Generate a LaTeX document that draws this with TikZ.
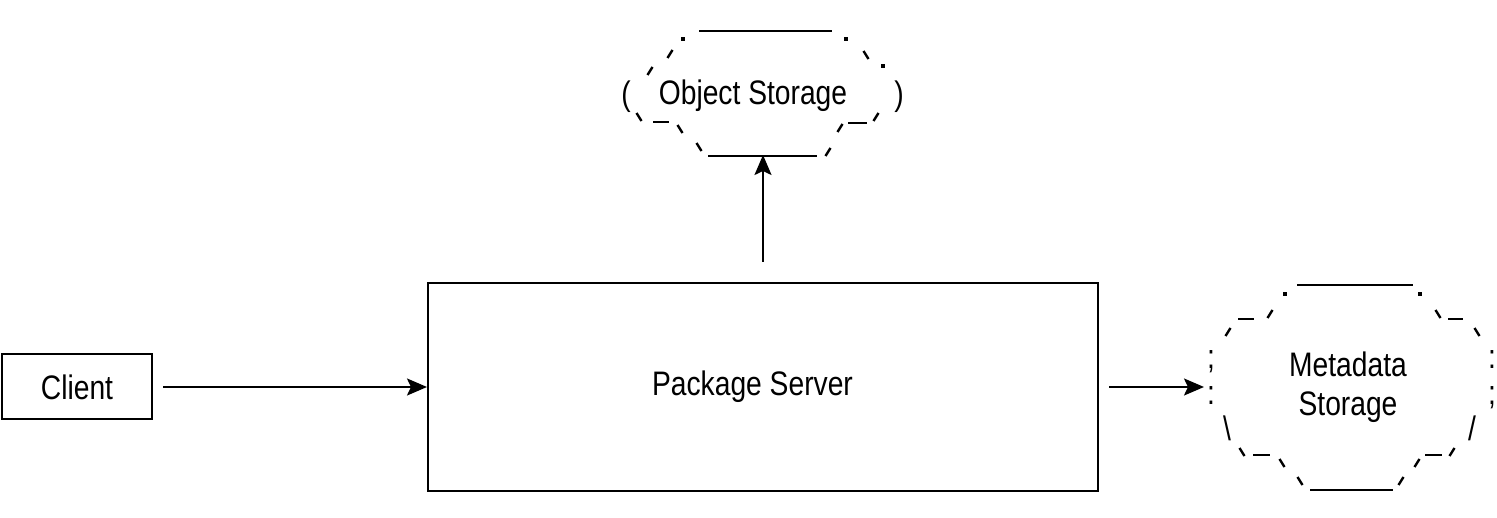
\documentclass[tikz,border=0pt]{standalone}
\usepackage{fontspec}
\setmainfont[FakeStretch=0.83]{Liberation Sans}
\usetikzlibrary{positioning,arrows.meta}

\begin{document}
\begin{tikzpicture}[
    x=1pt, y=-1pt,
    every node/.style={font=\fontsize{34}{39}\selectfont},
    box/.style={draw, line width=2pt, inner sep=0pt},
    bar/.style={line width=2pt},
    tick/.style={line width=2.4pt},
    glyph/.style={inner sep=0pt},
    >={Stealth[length=20pt,width=17pt,inset=4pt]},
    line width=2pt
]
    \useasboundingbox (0,0) rectangle (1497,518);

    \node (server) [box, minimum width=670pt, minimum height=208pt] at (763,387) {Package Server\hspace*{21pt}};
    \node (client) [box, minimum width=150pt, minimum height=65pt, left=274pt of server] {Client};
    \node (objst) at (753,96) {Object Storage};
    \node (metast) [align=center] at (1348,387.5) {Metadata\\Storage};

    % cloud round the object storage
    \draw[bar] (699,31) -- (832,31);
    \draw[bar] (708,156) -- (817,156);
    \draw[bar] (653,122) -- (669,122);
    \draw[bar] (848,123) -- (867,123);
    \node (objl) [glyph] at (626,97) {(};
    \node (objr) [glyph] at (899,97) {)};

    % cloud round the metadata storage
    \draw[bar] (1297,285) -- (1413,285);
    \draw[bar] (1310,490) -- (1393,490);
    \draw[bar] (1238,319) -- (1254,319);
    \draw[bar] (1448,319) -- (1463,319);
    \draw[bar] (1253,455) -- (1270,455);
    \draw[bar] (1425,455) -- (1442,455);
    \node (metal1) [glyph, anchor=base] at (1211,369) {;};
    \node (metal2) [glyph, anchor=base] at (1211,405) {:};
    \node (metar1) [glyph, anchor=base] at (1492,369) {:};
    \node (metar2) [glyph, anchor=base] at (1492,405) {;};
    \node (metal3) [glyph] at (1227,428) {\textbackslash};
    \node (metar3) [glyph] at (1472,428) {/};

    % small marks of both clouds
    \foreach \x/\y in {683/39, 846/39, 883/66, 1285/294, 1420/294}
        \fill (\x-2,\y-2) rectangle (\x+2,\y+2);
    \foreach \x/\y in {670/54, 650/71, 840/128, 876/117, 828/152,
                       1270/314, 1228/332, 1417/463, 1452/452, 1401/481}
        \draw[tick] (\x-2.5,\y+4) -- (\x+2.5,\y-4);
    \foreach \x/\y in {866/55, 639/117, 680/129, 699/147,
                       1438/314, 1477/332, 1242/452, 1282/463, 1300/481}
        \draw[tick] (\x-2.5,\y-4) -- (\x+2.5,\y+4);

    \coordinate (objbot) at (763,155);
    \coordinate (metaleft) at (1204,387);

    \draw[->, shorten <=10pt] (client) -- (server);
    \draw[->, shorten <=20pt] (server.north) -- (objbot);
    \draw[->, shorten <=10pt] (server.east) -- (metaleft);
\end{tikzpicture}
\end{document}
